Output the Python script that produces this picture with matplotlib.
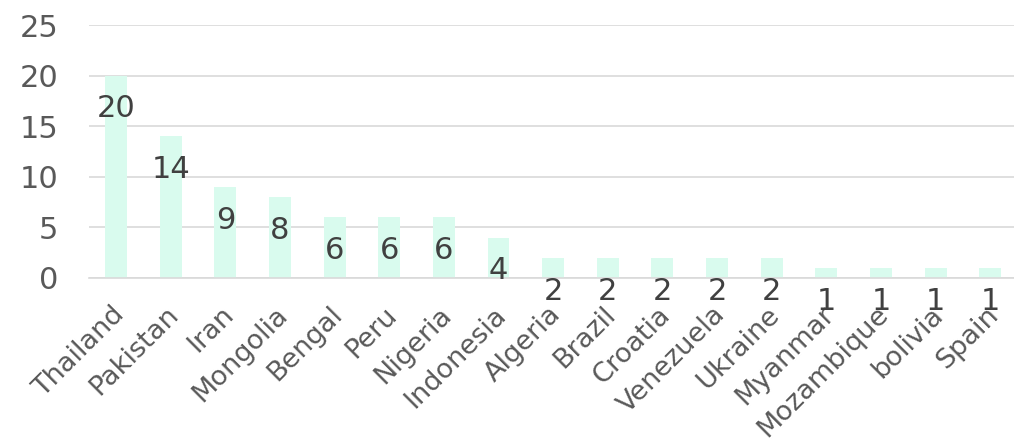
import matplotlib.pyplot as plt
from matplotlib.transforms import ScaledTranslation

countries = ['Thailand', 'Pakistan', 'Iran', 'Mongolia', 'Bengal', 'Peru', 'Nigeria',
             'Indonesia', 'Algeria', 'Brazil', 'Croatia', 'Venezuela', 'Ukraine',
             'Myanmar', 'Mozambique', 'bolivia', 'Spain']
counts = [20, 14, 9, 8, 6, 6, 6, 4, 2, 2, 2, 2, 2, 1, 1, 1, 1]
y_ticks = [0, 5, 10, 15, 20, 25]

plt.rcParams['font.family'] = ['DejaVu Sans']

fig = plt.figure(figsize=(10.14, 4.46), dpi=100)
ax = fig.add_axes([0.0875, 0.3767, 0.916, 0.5672])

x = list(range(len(countries)))
bars = ax.bar(x, counts, width=0.4, color='#d9fbee', zorder=2)

for bar, v in zip(bars, counts):
    ax.annotate(str(v), (bar.get_x() + bar.get_width() / 2, bar.get_height()),
                xytext=(0, -24), textcoords='offset points',
                ha='center', va='center', fontsize=22, color='#404040', zorder=3)

ax.set_xlim(-0.5, len(countries) - 0.5)
ax.set_ylim(0, 25)
ax.set_yticks(y_ticks)
ax.yaxis.grid(True, color='#d9d9d9', linewidth=1.2, zorder=0)
ax.set_axisbelow(True)

ax.set_xticks(x)
ax.set_xticklabels(countries, rotation=45, ha='right', rotation_mode='anchor')
ax.tick_params(axis='x', length=0, pad=17, labelsize=19.5, labelcolor='#595959')
ax.tick_params(axis='y', length=0, pad=22, labelsize=22, labelcolor='#595959')
shift = ScaledTranslation(-5 / 100, 0, fig.dpi_scale_trans)
for lbl in ax.get_xticklabels():
    lbl.set_transform(lbl.get_transform() + shift)

for s in ['top', 'right', 'left']:
    ax.spines[s].set_visible(False)
ax.spines['bottom'].set_color('#d9d9d9')
ax.spines['bottom'].set_linewidth(1.2)

fig.savefig('out.png', dpi=100)
